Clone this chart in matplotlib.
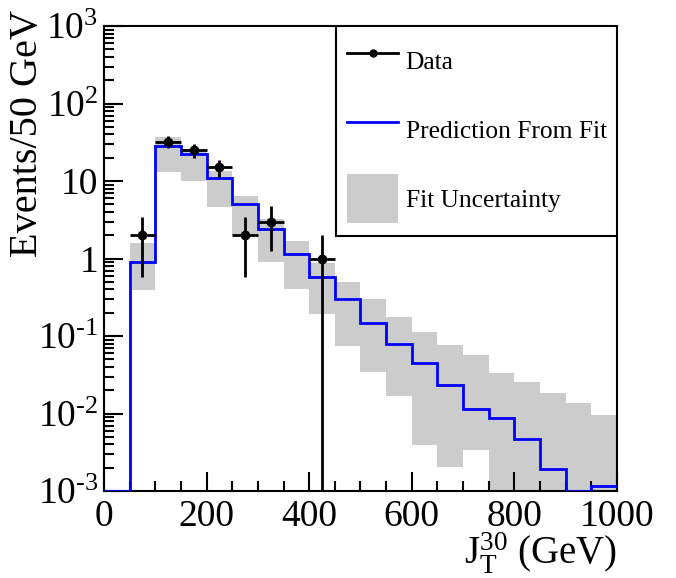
import numpy as np
import matplotlib
matplotlib.use("Agg")
import matplotlib.pyplot as plt
from matplotlib.lines import Line2D
from matplotlib.patches import Patch, Rectangle
from matplotlib.ticker import MultipleLocator, LogLocator, FuncFormatter, NullFormatter

plt.rcParams['font.family'] = ['Liberation Serif', 'DejaVu Serif']
plt.rcParams['mathtext.fontset'] = 'custom'
plt.rcParams['mathtext.rm'] = 'Liberation Serif'
plt.rcParams['mathtext.it'] = 'Liberation Serif:italic'

# bins of 50 GeV
edges = np.arange(0, 1050, 50)
pred = [0.001, 0.91, 28.5, 22.3, 11.0, 5.1, 2.4, 1.14, 0.57, 0.30,
        0.146, 0.078, 0.045, 0.023, 0.0115, 0.0087, 0.0047, 0.0019, 0.001, 0.00117]
band_lo = [0, 0.39, 12.9, 10.0, 4.66, 2.01, 0.91, 0.41, 0.19, 0.074,
           0.034, 0.0168, 0.0039, 0.00206, 0.0034, 0, 0, 0, 0, 0]
band_hi = [0, 1.6, 37.3, 25.6, 13.6, 6.46, 3.2, 1.70, 0.87, 0.50,
           0.30, 0.174, 0.112, 0.0766, 0.057, 0.033, 0.0257, 0.0182, 0.0135, 0.0096]

data_x = [75, 125, 175, 225, 275, 325, 425]
data_y = [2, 32, 25, 15, 2, 3, 1]

data_y = np.array(data_y, dtype=float)
err = np.sqrt(data_y)
err_lo = np.minimum(err, data_y - 1e-6)

fig = plt.figure(figsize=(6.76, 5.78), dpi=100)
ax = fig.add_axes([0.1538, 0.1505, 0.7589, 0.8045])
ax.set_yscale('log')

lo = np.array(band_lo)
hi = np.array(band_hi)
ax.bar(edges[:-1], hi - lo, bottom=lo, width=50, align='edge',
       color='#cccccc', linewidth=0, zorder=1)
ax.stairs(pred, edges, baseline=None, color='#0000ff', lw=2, zorder=2.6)
ax.errorbar(data_x, data_y, xerr=25, yerr=[err_lo, err], fmt='o', color='k',
            ms=6, elinewidth=2, capsize=0, zorder=3)

ax.set_xlim(0, 1000)
ax.set_ylim(1e-3, 1e3)

def ylab(v, pos):
    e = int(round(np.log10(v)))
    if e == 0:
        return '1'
    if e == 1:
        return '10'
    if e < 0:
        return r'$\mathregular{10^{\text{-}%d}}$' % (-e)
    return r'$\mathregular{10^{%d}}$' % e

ax.xaxis.set_major_locator(MultipleLocator(200))
ax.xaxis.set_minor_locator(MultipleLocator(50))
ax.yaxis.set_major_locator(LogLocator(base=10, numticks=20))
ax.yaxis.set_minor_locator(LogLocator(base=10, subs=np.arange(2, 10), numticks=20))
ax.yaxis.set_major_formatter(FuncFormatter(ylab))
ax.yaxis.set_minor_formatter(NullFormatter())

ax.tick_params(which='both', direction='in', width=1.5, labelsize=27,
               top=False, right=False)
ax.tick_params(which='major', length=14)
ax.tick_params(which='minor', length=7)
ax.tick_params(axis='x', pad=6)
ax.tick_params(axis='y', pad=4)
for s in ax.spines.values():
    s.set_linewidth(1.5)

ax.set_xlabel(r'$\mathregular{J_T^{30}}$ (GeV)', fontsize=28, loc='right', labelpad=-2)
ax.set_ylabel('Events/50 GeV', fontsize=29, loc='top')
ax.yaxis.set_label_coords(-0.113, 1.034)

# legend frame
ax.add_patch(Rectangle((0.452, 0.548), 0.548, 0.452, transform=ax.transAxes,
                       facecolor='white', edgecolor='k', lw=1.5, zorder=4))
handles = [Line2D([], [], color='k', marker='o', ms=5, lw=2),
           Line2D([], [], color='#0000ff', lw=2),
           Patch(facecolor='#cccccc', edgecolor='none')]
labels = ['Data', 'Prediction From Fit', 'Fit Uncertainty']
leg = ax.legend(handles, labels, loc='upper left', bbox_to_anchor=(0.4737, 0.977),
                frameon=False, fontsize=18.4, borderpad=0, borderaxespad=0,
                handlelength=2.0, handleheight=2.57, handletextpad=0.3,
                labelspacing=0.78)
leg.set_zorder(5)

fig.savefig('out.png', dpi=100)
